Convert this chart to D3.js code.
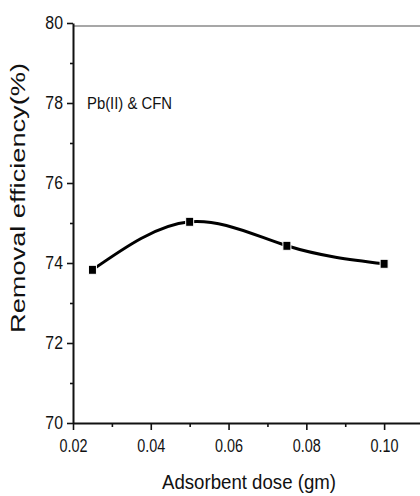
<!DOCTYPE html>
<html>
<head>
<meta charset="utf-8">
<script src="https://cdn.jsdelivr.net/npm/d3@7"></script>
<style>
  body { margin: 0; background: #fff; }
  text { font-family: "Liberation Sans", Arial, sans-serif; fill: #111; }
</style>
</head>
<body>
<div id="plot"></div>
<script>
// data
let dose = [0.025, 0.05, 0.075, 0.10];
let removal = [73.83, 75.03, 74.43, 73.98];
let xTicks = [0.02, 0.04, 0.06, 0.08, 0.10];
let xMinor = [0.03, 0.05, 0.07, 0.09];
let yTicks = [70, 72, 74, 76, 78, 80];
let yMinor = [71, 73, 75, 77, 79];

let svgWidth = 420;
let svgHeight = 496;
let margin = { top: 23, right: -3, bottom: 73, left: 73 };
let width = svgWidth - margin.left - margin.right;
let height = svgHeight - margin.top - margin.bottom;

let points = dose.map((d, i) => ({ x: d, y: removal[i] }));

let x = d3.scaleLinear().domain([0.02, 0.11]).range([0, width]);
let y = d3.scaleLinear().domain([70, 80]).range([height, 0]);

let svg = d3.select('#plot')
    .append('svg')
        .attr('width', svgWidth)
        .attr('height', svgHeight)
    .append('g')
        .attr('transform', `translate(${margin.left},${margin.top})`);

// squeeze text horizontally like the source image
function squeeze(sel, k) {
    sel.each(function () {
        let w = this.getComputedTextLength();
        d3.select(this).attr('textLength', w * k).attr('lengthAdjust', 'spacingAndGlyphs');
    });
}

// top frame line
svg.append('line')
    .attr('x1', x(0.02)).attr('x2', x(0.11))
    .attr('y1', y(80) + 3).attr('y2', y(80) + 3)
    .attr('stroke', '#8a8a8a').attr('stroke-width', 1.6);

// minor ticks
let gxMinor = svg.append('g')
    .attr('transform', `translate(0,${height})`)
    .call(d3.axisBottom(x).tickValues(xMinor).tickSize(4).tickFormat(''));
gxMinor.select('.domain').remove();
let gyMinor = svg.append('g')
    .call(d3.axisLeft(y).tickValues(yMinor).tickSize(3).tickFormat(''));
gyMinor.select('.domain').remove();

let gx = svg.append('g')
    .attr('transform', `translate(0,${height})`)
    .call(d3.axisBottom(x).tickValues(xTicks).tickSize(7).tickSizeOuter(0)
        .tickPadding(9).tickFormat(d3.format('.2f')));
gx.selectAll('text').style('font-size', '18px').call(squeeze, 0.8);

let gy = svg.append('g')
    .call(d3.axisLeft(y).tickValues(yTicks).tickSize(6).tickSizeOuter(0)
        .tickPadding(4).tickFormat(d3.format('d')));
gy.selectAll('text').style('font-size', '18px').call(squeeze, 0.88);

svg.selectAll('.domain').attr('stroke', '#111').attr('stroke-width', 2);
svg.selectAll('.tick line').attr('stroke', '#111').attr('stroke-width', 1.6);
svg.selectAll('text').attr('fill', '#111');

// curve
let line = d3.line()
    .x(d => x(d.x))
    .y(d => y(d.y))
    .curve(d3.curveNatural);

svg.append('path')
    .datum(points)
    .attr('fill', 'none')
    .attr('stroke', '#000')
    .attr('stroke-width', 3)
    .attr('d', line);

svg.selectAll('rect.pt')
    .data(points)
    .enter()
        .append('rect')
        .attr('class', 'pt')
        .attr('x', d => x(d.x) - 4)
        .attr('y', d => y(d.y) - 4.5)
        .attr('width', 8)
        .attr('height', 9)
        .attr('fill', '#000')
        .attr('stroke', '#fff')
        .attr('stroke-width', 1);

// labels
svg.append('text')
    .attr('x', 14)
    .attr('y', 86)
    .style('font-size', '16px')
    .attr('textLength', 85)
    .attr('lengthAdjust', 'spacingAndGlyphs')
    .text('Pb(II) & CFN');

svg.append('text')
    .attr('x', width / 2 + 1)
    .attr('y', height + 66)
    .attr('text-anchor', 'middle')
    .style('font-size', '20px')
    .attr('textLength', 174)
    .attr('lengthAdjust', 'spacingAndGlyphs')
    .text('Adsorbent dose (gm)');

svg.append('text')
    .attr('transform', `translate(${-48},${y(75) - 25}) rotate(-90)`)
    .attr('text-anchor', 'middle')
    .style('font-size', '21px')
    .attr('textLength', 270)
    .attr('lengthAdjust', 'spacingAndGlyphs')
    .text('Removal efficiency(%)');
</script>
</body>
</html>
